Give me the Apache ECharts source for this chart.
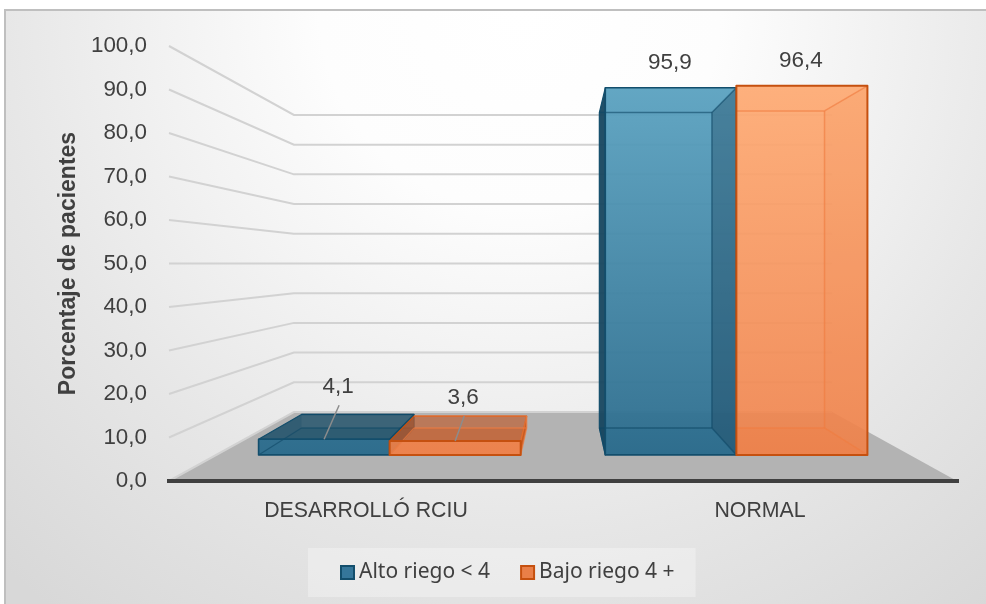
<!DOCTYPE html>
<html><head><meta charset="utf-8">
<style>html,body{margin:0;padding:0;background:#fff}#c{width:986px;height:604px}</style>
<script src="https://cdn.jsdelivr.net/npm/echarts@6/dist/echarts.min.js"></script>
</head><body><div id="c"></div>
<script>
const categories = ['DESARROLLÓ RCIU', 'NORMAL'];
const seriesNames = ['Alto riego < 4', 'Bajo riego 4 +'];
const altoRiego = [4.1, 95.9];
const bajoRiego = [3.6, 96.4];
const yTicks = [0, 10, 20, 30, 40, 50, 60, 70, 80, 90, 100];

const fmt = v => v.toFixed(1).replace('.', ',');
const GRID = {left: 169, right: 29, top: 46, bottom: 123};
const VX = 563, VY = 263.4;
const S_BACK = 0.683, S_BF = 0.88, S_BB = 0.756;
const proj = (p, s) => [VX + (p[0] - VX) * s, VY + (p[1] - VY) * s];
const vg = (top, bottom) => ({type:'linear', x:0, y:46, x2:0, y2:481, global:true,
  colorStops:[{offset:0,color:top},{offset:1,color:bottom}]});

const PAL = [
  {legend:'#35769a', line:'#134e6c', front:vg('rgba(96,168,198,0.95)','rgba(40,104,137,0.95)'),
   right:'rgba(25,65,90,0.36)', shortRight:'rgba(25,70,95,0.7)', left:'rgba(22,70,95,0.95)', shortLeft:'rgba(22,70,95,0.3)',
   top:'rgba(30,80,105,0.8)', inner:'rgba(15,72,102,0.6)', bottomFace:'rgba(30,90,120,0.45)', lw:1.6},
  {legend:'#e97f48', line:'#c5500f', front:vg('rgba(255,176,122,0.95)','rgba(240,125,68,0.88)'),
   right:'rgba(240,130,70,0.1)', shortRight:'rgba(200,85,25,0.9)', left:'rgba(200,90,40,0.7)', shortLeft:'rgba(200,90,40,0.3)',
   top:'rgba(190,85,35,0.62)', inner:'rgba(240,125,65,0.65)', bottomFace:'rgba(215,110,60,0.45)', lw:2}
];
// leader-line labels for the short bars, plain labels for the tall ones
const LABEL_SHIFT = [[{dx:14,dy:-52,leader:true},{dx:8,dy:-43,leader:true}],
                     [{dx:-1,dy:-25},{dx:-1,dy:-25}]];

function poly(points, fill, stroke, lw) {
  return {type:'polygon', shape:{points}, style:{fill, stroke: stroke||'none', lineWidth: lw||0, lineJoin:'round'}};
}
function seg(a, b, stroke, lw) {
  return {type:'line', shape:{x1:a[0],y1:a[1],x2:b[0],y2:b[1]}, style:{stroke, lineWidth:lw}};
}
function barRenderer(si) {
  return function (params, api) {
    const idx = api.value(0), val = api.value(1);
    const cx = api.coord([idx, 0])[0], band = api.size([1, 0])[0], w = band * 0.378;
    const x0 = si === 0 ? cx - w : cx, x1 = x0 + w;
    const yb = api.coord([idx, 0])[1], yt = api.coord([idx, val])[1];
    const c = PAL[si];
    const tall = val > 50;
    const f = [proj([x0,yt],S_BF), proj([x1,yt],S_BF), proj([x1,yb],S_BF), proj([x0,yb],S_BF)];
    const b = [proj([x0,yt],S_BB), proj([x1,yt],S_BB), proj([x1,yb],S_BB), proj([x0,yb],S_BB)];
    // a tall right-hand bar hides its own left side behind the neighbouring bar
    const tallRight = si === 1 && tall;
    const cl = p => tallRight ? [Math.max(p[0], f[3][0]), p[1]] : p;
    const kids = [poly([cl(b[3]),b[2],f[2],f[3]], c.bottomFace)];
    if (!tall) {
      kids.push(poly([b[1],b[2],f[2],f[1]], c.shortRight));
      kids.push(poly([b[0],b[3],f[3],f[0]], c.shortLeft));
      kids.push(poly([b[0],b[1],f[1],f[0]], c.top, c.line, 1.2));
    }
    kids.push(poly(f, c.front));
    if (tall) {
      kids.push(poly([b[1],b[2],f[2],f[1]], c.right));
      if (si === 0) kids.push(poly([b[0],b[3],f[3],f[0]], c.left, c.line, 1.2));
    }
    // back edges seen through the translucent front
    kids.push(seg(cl(b[0]), b[1], c.inner, 1.5), seg(cl(b[3]), b[2], c.inner, 1.5));
    kids.push(seg(b[1], b[2], c.inner, 1.5), seg(b[1], f[1], c.inner, 1.5), seg(b[2], f[2], c.inner, 1.5));
    if (!tallRight) kids.push(seg(b[3], f[3], c.inner, 1.2));
    kids.push({type:'polygon', shape:{points:f}, style:{fill:'none', stroke:c.line, lineWidth:c.lw, lineJoin:'round'}});
    const ls = LABEL_SHIFT[idx][si];
    const lx = (f[0][0] + f[1][0]) / 2 + ls.dx, ly = f[0][1] + ls.dy;
    if (ls.leader) {
      kids.push(seg([lx+1, ly+18], [(f[0][0]+f[1][0])/2, f[0][1]], '#8c8c8c', 1.5));
    }
    kids.push({type:'text', style:{text:fmt(val), x:lx, y:ly, align:'center', verticalAlign:'middle',
      fill:'#404040', font:'22.5px "Liberation Sans"'}});
    return {type:'group', children:kids};
  };
}
function wallRenderer(params, api) {
  const v = api.value(0);
  const y = api.coord([0, v])[1];
  const yf0 = api.coord([0, 0])[1];
  const xl = GRID.left, xr = 986 - GRID.right;
  const kids = [];
  if (v === 0) {
    kids.push(poly([[xl,yf0],[xr,yf0],proj([xr,yf0],S_BACK),proj([xl,yf0],S_BACK)], '#b3b3b3'));
  }
  kids.push({type:'polyline', shape:{points:[[xl,y],proj([xl,y],S_BACK),proj([xr,y],S_BACK)]},
    style:{fill:'none', stroke:'#d2d2d2', lineWidth:2, lineJoin:'miter'}});
  return {type:'group', children:kids};
}

const chart = echarts.init(document.getElementById('c'), null, {renderer:'canvas'});
chart.setOption({
  animation:false,
  graphic:[{type:'rect', z:-10, silent:true, shape:{x:5,y:10,width:990,height:600},
    style:{fill:{type:'radial',x:0.52,y:0,r:1.33,colorStops:[{offset:0,color:'#ffffff'},{offset:0.25,color:'#fdfdfd'},{offset:0.66,color:'#e6e6e6'},{offset:0.95,color:'#d8d8d8'},{offset:1,color:'#d8d8d8'}]},
    stroke:'#bfbfbf', lineWidth:2}}],
  grid:GRID,
  xAxis:{type:'category', data:categories, z:10, axisTick:{show:false},
    axisLine:{lineStyle:{color:'#404040', width:4, cap:'square'}},
    axisLabel:{color:'#404040', fontFamily:'Liberation Sans', fontSize:21.3, margin:20}},
  yAxis:{type:'value', min:0, max:100, interval:10, splitLine:{show:false},
    axisLine:{show:false}, axisTick:{show:false},
    name:'Porcentaje de pacientes', nameLocation:'middle', nameGap:89,
    nameTextStyle:{color:'#404040', fontFamily:'Liberation Sans', fontWeight:'bold', fontSize:23},
    axisLabel:{color:'#404040', fontFamily:'Liberation Sans', fontSize:22.4, margin:22, padding:[6,0,0,0], formatter:fmt}},
  legend:{show:true, left:308, top:548, data:[
      {name:seriesNames[0], itemStyle:{color:PAL[0].legend, borderColor:PAL[0].line, borderWidth:2}},
      {name:seriesNames[1], itemStyle:{color:PAL[1].legend, borderColor:PAL[1].line, borderWidth:2}}],
    icon:'rect', itemWidth:13, itemHeight:13, itemGap:30, padding:[14,21,14,32],
    backgroundColor:'rgba(255,255,255,0.3)',
    textStyle:{color:'#404040', fontFamily:'Noto Sans', fontSize:21}},
  series:[
    {type:'custom', name:'wall', silent:true, z:1, coordinateSystem:'cartesian2d', clip:false,
      data:yTicks.map(v=>[v]), encode:{y:0}, renderItem:wallRenderer},
    {type:'custom', name:seriesNames[0], z:2, clip:false, itemStyle:{color:PAL[0].legend},
      data:altoRiego.map((v,i)=>[i,v]), encode:{x:0,y:1}, renderItem:barRenderer(0)},
    {type:'custom', name:seriesNames[1], z:3, clip:false, itemStyle:{color:PAL[1].legend},
      data:bajoRiego.map((v,i)=>[i,v]), encode:{x:0,y:1}, renderItem:barRenderer(1)}
  ]
});
</script></body></html>
